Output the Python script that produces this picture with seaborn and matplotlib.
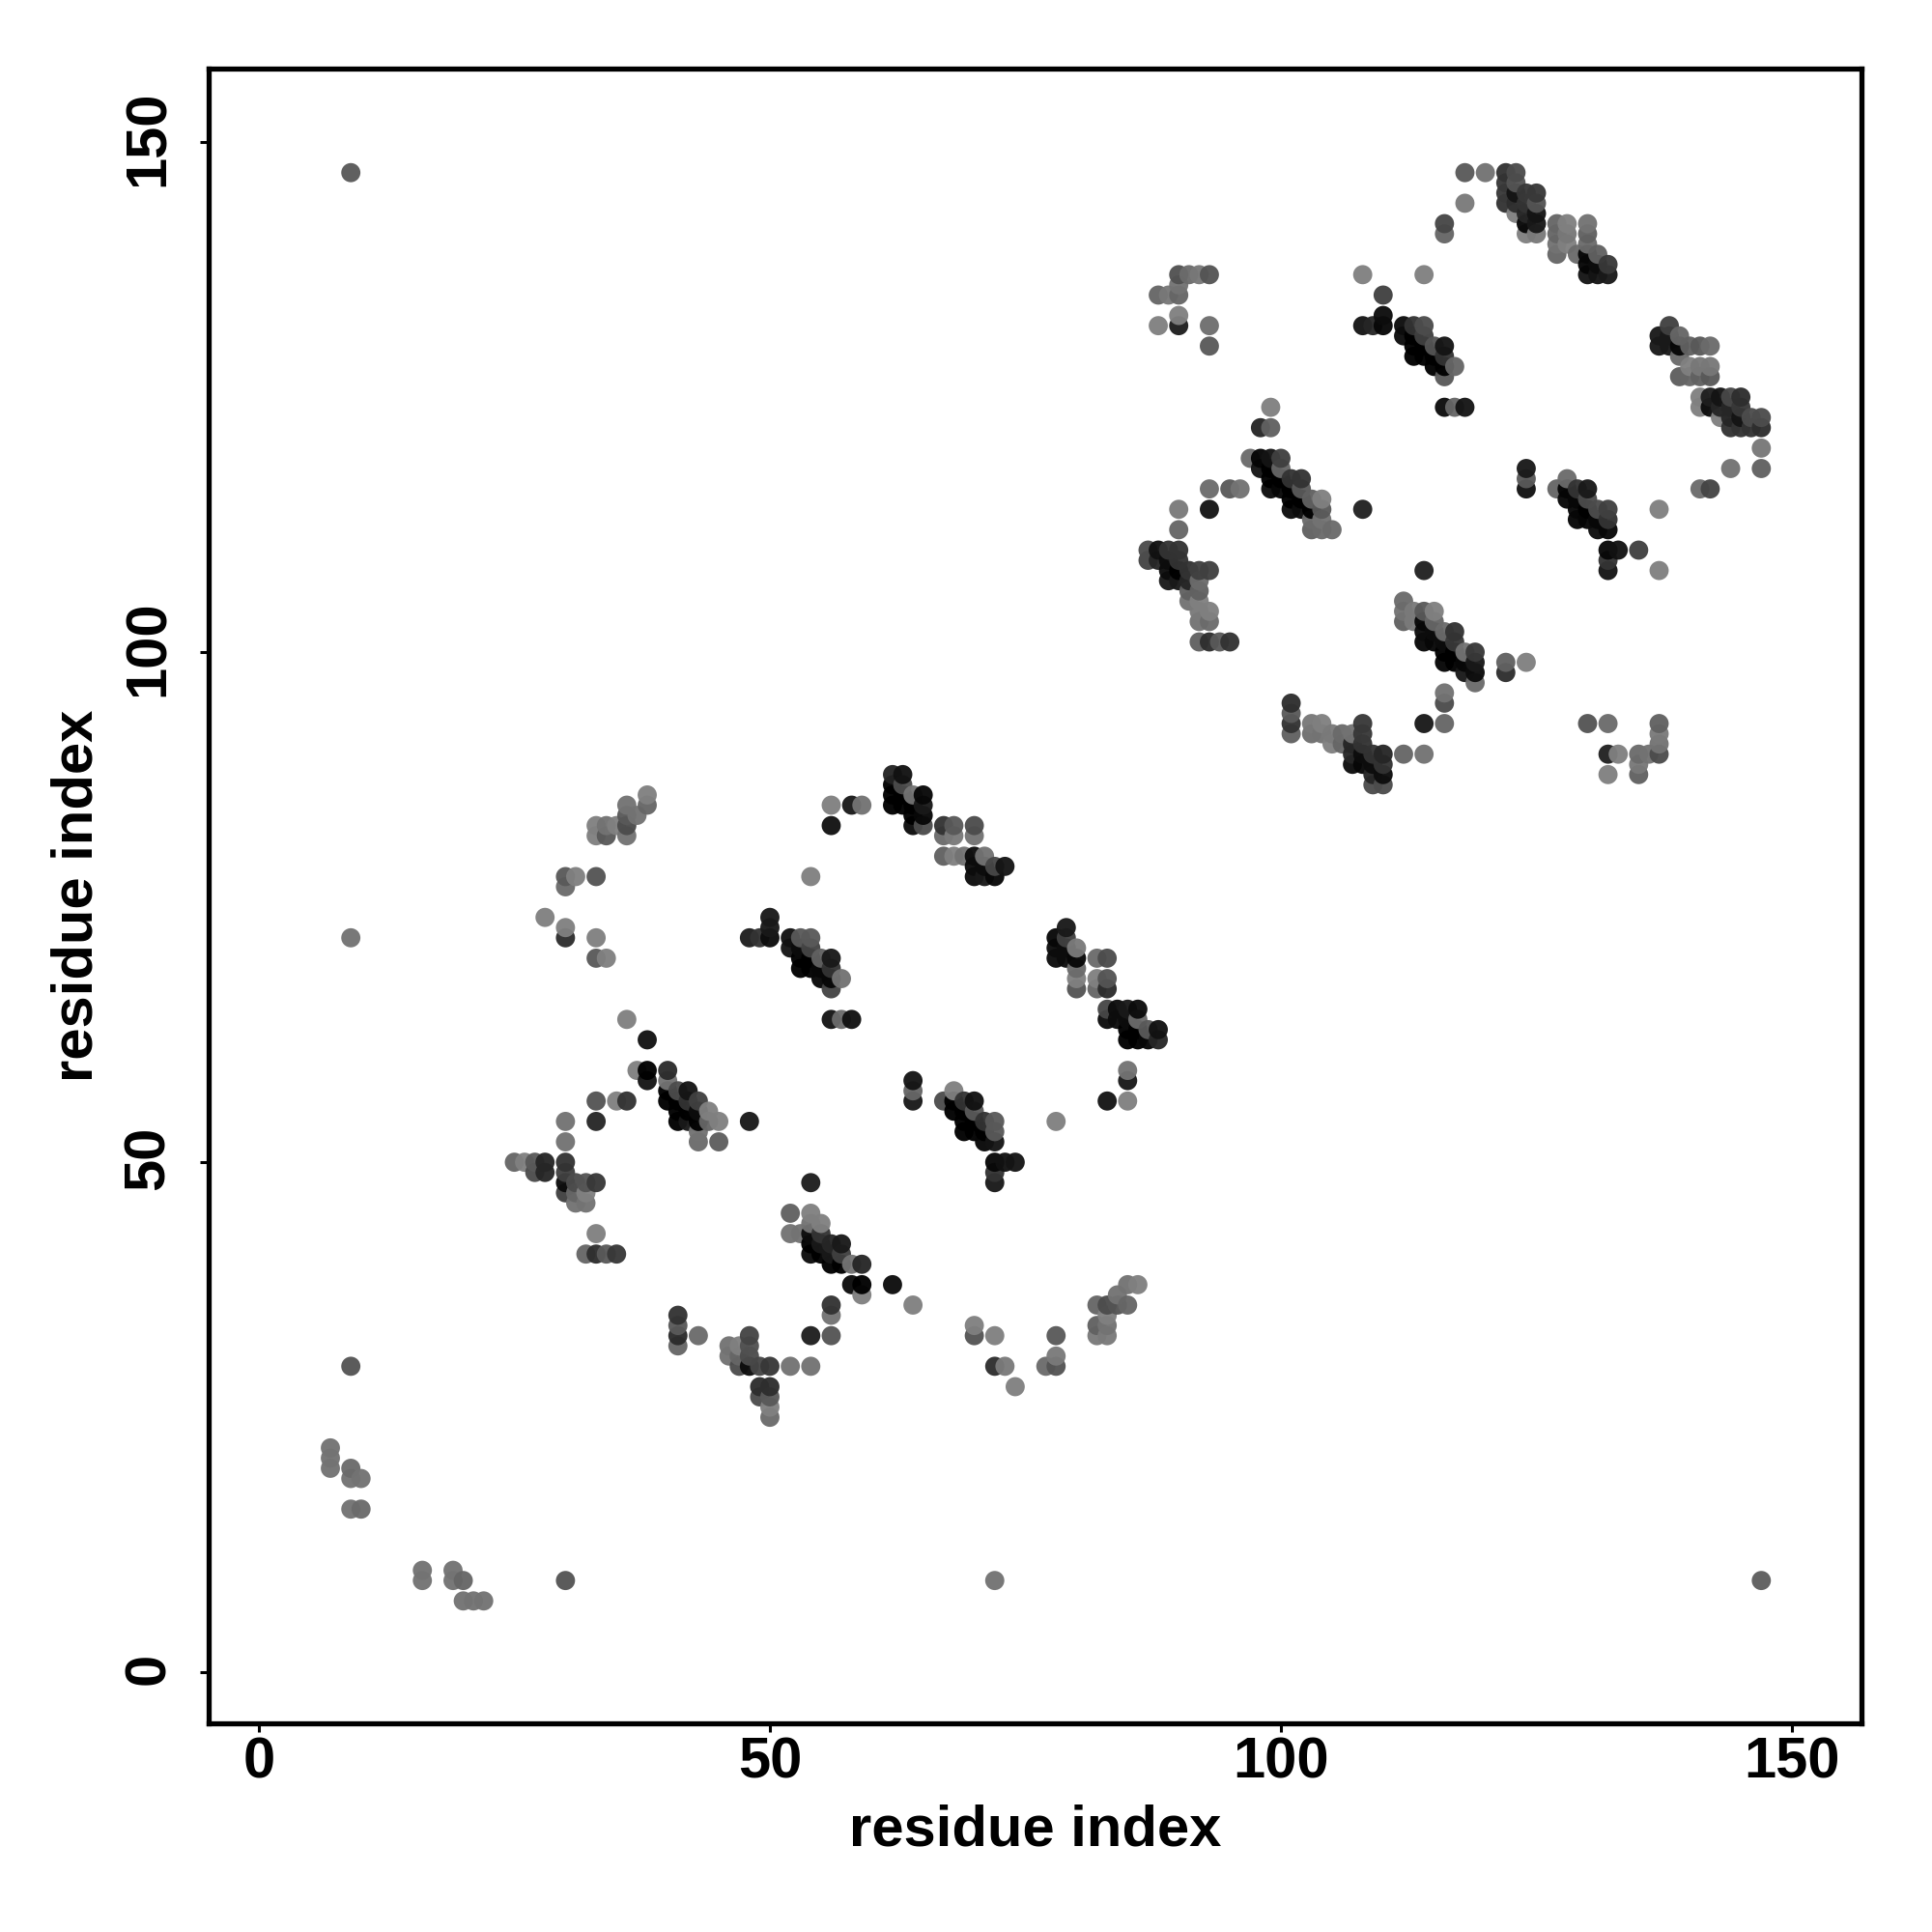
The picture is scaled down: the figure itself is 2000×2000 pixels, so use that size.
import matplotlib
matplotlib.use('Agg')
import matplotlib.pyplot as plt
from matplotlib.transforms import ScaledTranslation
import seaborn as sns
import pandas as pd

# contacts: (residue x, residue y, grey level of the dot)
tail_contacts = [
    (7, 22, .45), (7, 21, .45), (7, 20, .45), (9, 20, .42), (9, 19, .45), (10, 19, .45),
    (9, 16, .45), (10, 16, .42), (16, 10, .45), (16, 9, .45), (19, 10, .45), (19, 9, .45),
    (20, 9, .4), (20, 7, .45), (21, 7, .45), (22, 7, .45), (30, 9, .33), (9, 30, .33),
    (72, 9, .45), (147, 9, .37), (9, 72, .45), (9, 147, .35),
]

upper_left_arc = [
    (38, 86, .5), (38, 85, .4), (36, 85, .45), (37, 84, .45), (36, 84, .35), (36, 83, .3),
    (36, 82, .45), (33, 83, .5), (34, 83, .45), (35, 83, .5), (33, 82, .5), (34, 82, .35),
    (30, 78, .35), (31, 78, .5), (33, 78, .33), (30, 77, .42), (28, 74, .5), (30, 73, .5),
    (30, 72, .18), (33, 72, .5), (33, 70, .35), (34, 70, .5), (36, 64, .5), (38, 62, .07),
    (37, 59, .5), (38, 59, 0), (38, 58, .08), (33, 56, .33), (35, 56, .5), (36, 56, .2),
    (30, 54, .45), (33, 54, .15), (30, 52, .45),
]

band_40_57 = [
    (40, 59, .17), (40, 58, .45), (40, 57, 0), (41, 57, .3), (42, 57, .08), (40, 56, 0),
    (41, 56, 0), (42, 56, .2), (43, 56, .25), (41, 55, 0), (42, 55, 0), (43, 55, .05),
    (44, 55, .5), (41, 54, 0), (42, 54, .1), (43, 54, 0), (44, 54, .4), (45, 54, .5),
    (48, 54, .1), (43, 53, .45), (43, 52, .42), (45, 52, .37),
]

knot_25_50 = [
    (25, 50, .4), (26, 50, .5), (27, 50, .35), (28, 50, .15), (30, 50, .2), (27, 49, .3),
    (28, 49, .15), (30, 49, .25), (30, 48, .05), (31, 48, .3), (32, 48, .33), (33, 48, .22),
    (30, 47, .25), (31, 47, .4), (32, 47, .5), (31, 46, .45), (32, 46, .45), (33, 43, .5),
    (32, 41, .4), (33, 41, .18), (34, 41, .35), (35, 41, .22),
]

band_52_45 = [
    (54, 48, .12), (52, 45, .38), (54, 45, .5), (54, 44, .45), (55, 44, .5), (52, 43, .45),
    (53, 43, .45), (54, 43, .05), (55, 43, .2), (54, 42, 0), (55, 42, .1), (56, 42, .15),
    (57, 42, .1), (54, 41, .05), (55, 41, 0), (56, 41, .1), (57, 41, .25), (56, 40, 0),
    (57, 40, 0), (58, 40, .45), (59, 40, .15), (58, 38, .05), (59, 38, 0), (62, 38, .05),
    (59, 37, .5), (64, 36, .5), (56, 36, .2), (56, 35, .45), (54, 33, .12), (56, 33, .33),
]

bottom_arc = [
    (41, 35, .2), (41, 34, .35), (41, 33, .17), (41, 32, .4), (43, 33, .42), (48, 33, .27),
    (48, 32, .32), (48, 31, .3), (46, 32, .45), (47, 32, .5), (46, 31, .45), (47, 31, .4),
    (47, 30, .3), (48, 30, .05), (49, 30, .28), (50, 30, .22), (52, 30, .45), (54, 30, .45),
    (49, 28, .18), (50, 28, .18), (49, 27, .3), (50, 27, .35), (50, 26, .5), (50, 25, .42),
    (70, 34, .5), (70, 33, .33), (72, 33, .5), (78, 33, .35), (72, 30, .18), (73, 30, .48),
    (74, 28, .5), (77, 30, .42), (78, 31, .48), (78, 30, .33), (82, 36, .4), (83, 36, .3),
    (84, 37, .45), (84, 36, .33), (85, 36, .4), (85, 38, .45), (86, 38, .5), (82, 34, .38),
    (83, 35, .5), (83, 34, .45), (82, 33, .48), (83, 33, .48),
]

band_48_72 = [
    (54, 78, .5), (48, 72, .12), (49, 72, .2), (50, 72, .05), (50, 74, .1), (50, 73, .1),
    (52, 72, .07), (53, 72, .35), (54, 72, .35), (52, 71, .08), (53, 71, .05), (54, 71, .27),
    (53, 70, 0), (54, 70, 0), (55, 70, .38), (56, 70, .1), (53, 69, 0), (54, 69, 0),
    (55, 69, .03), (56, 69, .2), (55, 68, .03), (56, 68, .03), (57, 68, .45), (56, 67, .27),
    (56, 64, .08), (57, 64, .42), (58, 64, .07),
]

band_62_88 = [
    (56, 85, .5), (58, 85, .1), (59, 85, .45), (56, 83, .07), (62, 88, .14), (63, 88, .07),
    (62, 87, 0), (63, 87, .3), (62, 86, 0), (63, 86, 0), (64, 86, .45), (65, 86, .03),
    (62, 85, 0), (63, 85, 0), (64, 85, 0), (65, 85, .1), (64, 84, 0), (65, 84, .03),
    (64, 83, .05), (65, 83, .3), (67, 83, .2), (68, 83, .35), (70, 83, .3), (67, 82, .42),
    (68, 82, .48), (70, 82, .45), (67, 80, .38), (68, 80, .5), (69, 80, .45), (70, 80, .05),
    (71, 80, .45), (70, 79, .05), (71, 79, .05), (72, 79, .28), (73, 79, .08), (70, 78, .05),
    (71, 78, .1), (72, 78, .03),
]

band_78_73 = [
    (79, 73, .1), (78, 72, .03), (79, 72, .25), (80, 71, .48), (78, 71, .05), (79, 71, .05),
    (78, 70, .05), (79, 70, .05), (80, 70, .03), (82, 70, .42), (83, 70, .3), (80, 69, .42),
    (80, 68, .5), (82, 68, .5), (83, 68, .33), (80, 67, .33), (82, 67, .4), (83, 67, .17),
    (83, 65, .28), (84, 65, .05), (85, 65, .1), (86, 65, .05), (83, 64, .05), (84, 64, .05),
    (85, 64, .05), (86, 64, .42), (85, 63, 0), (86, 63, 0), (87, 63, .35), (88, 63, .07),
    (85, 62, 0), (86, 62, 0), (87, 62, .03), (88, 62, .15), (85, 59, .45), (85, 58, .1),
    (83, 56, .08), (85, 56, .5), (78, 54, .5),
]

band_67_56 = [
    (64, 58, .08), (64, 57, .4), (64, 56, .1), (67, 56, .3), (68, 57, .5), (68, 56, 0),
    (69, 56, .2), (70, 56, .07), (68, 55, 0), (69, 55, 0), (70, 55, .35), (69, 54, 0),
    (70, 54, 0), (71, 54, .2), (72, 54, .35), (69, 53, 0), (70, 53, 0), (71, 53, 0),
    (72, 53, .35), (71, 52, .03), (72, 52, .08), (72, 50, .03), (73, 50, .07), (74, 50, .08),
    (72, 49, .2), (72, 48, .1),
]

upper_arc_88_137 = [
    (90, 137, .32), (91, 137, .42), (92, 137, .47), (93, 137, .33), (90, 136, .45),
    (88, 135, .4), (89, 135, .47), (90, 135, .4), (88, 132, .5), (90, 133, .5), (90, 132, .12),
    (93, 132, .43), (93, 130, .35), (99, 124, .5), (98, 122, .15), (99, 122, .38),
    (93, 116, .42), (95, 116, .35), (96, 116, .45), (90, 114, .48), (93, 114, .08),
    (108, 114, .13), (90, 112, .4),
]

band_108_132 = [
    (108, 137, .5), (114, 137, .5), (110, 135, .25), (110, 133, .05), (108, 132, .08),
    (109, 132, .15), (110, 132, .03), (112, 132, .05), (113, 132, .2), (114, 132, .3),
    (112, 131, .05), (113, 131, 0), (114, 131, .25), (113, 130, 0), (114, 130, 0),
    (115, 130, .33), (116, 130, .08), (113, 129, 0), (114, 129, 0), (115, 129, 0),
    (116, 129, .2), (115, 128, 0), (116, 128, 0), (117, 128, .4), (116, 127, .35),
    (116, 124, .05), (117, 124, .4), (118, 124, .08),
]

band_97_119 = [
    (97, 119, .42), (98, 119, .02), (99, 119, .08), (100, 119, .25), (98, 118, .08),
    (99, 118, 0), (100, 118, .4), (99, 117, 0), (100, 117, 0), (101, 117, .2), (102, 117, .2),
    (99, 116, .05), (100, 116, .03), (101, 116, 0), (102, 116, .35), (101, 115, 0),
    (102, 115, 0), (103, 115, .38), (104, 115, .5), (101, 114, .05), (102, 114, .05),
    (103, 114, 0), (104, 114, .35), (103, 113, .42), (104, 113, .45), (103, 112, .38),
    (104, 112, .42), (105, 112, .42),
]

band_87_110 = [
    (87, 110, .3), (88, 110, .07), (89, 110, .2), (90, 110, .2), (87, 109, .27), (88, 109, .15),
    (89, 109, .05), (90, 109, .2), (89, 108, .05), (90, 108, 0), (91, 108, .2), (92, 108, .25),
    (93, 108, .25), (89, 107, .1), (90, 107, .1), (91, 107, .15), (92, 107, .42), (91, 106, .38),
    (92, 106, .38), (91, 105, .45), (92, 105, .5), (92, 104, .48), (93, 104, .5), (92, 103, .45),
    (93, 103, .42), (92, 101, .38), (93, 101, .18), (94, 101, .35), (95, 101, .2),
]

band_112_105 = [
    (114, 108, .13), (112, 105, .42), (112, 104, .45), (112, 103, .38), (113, 104, .48),
    (113, 103, .48), (114, 104, .35), (115, 104, .5), (114, 103, .03), (115, 103, .4),
    (114, 102, .05), (115, 102, .05), (116, 102, .42), (117, 102, .2), (114, 101, .03),
    (115, 101, .03), (116, 101, .05), (117, 101, .22), (116, 100, 0), (117, 100, 0),
    (118, 100, .45), (119, 100, .22), (116, 99, .02), (117, 99, 0), (118, 99, .03),
    (119, 99, .1), (122, 99, .38), (124, 99, .5), (118, 98, .1), (119, 98, .05), (122, 98, .18),
    (119, 97, .42), (116, 96, .45), (116, 95, .3), (114, 93, .1), (116, 93, .4), (112, 90, .4),
    (114, 90, .45),
]

band_101_95 = [
    (101, 95, .18), (101, 94, .35), (101, 93, .2), (101, 92, .38), (103, 93, .47), (104, 93, .5),
    (103, 92, .43), (104, 92, .45), (105, 92, .48), (106, 92, .42), (107, 92, .45), (108, 93, .22),
    (108, 92, .22), (105, 91, .5), (106, 91, .4), (107, 91, .15), (108, 91, .2), (107, 90, .15),
    (108, 90, .05), (109, 90, .2), (110, 90, .15), (107, 89, .05), (108, 89, .03), (109, 89, .05),
    (110, 89, .2), (109, 88, .15), (110, 88, .05), (109, 87, .3), (110, 87, .3),
]

band_122_147 = [
    (118, 147, .35), (120, 147, .45), (122, 147, .2), (123, 147, .3), (122, 146, .22), (123, 146, .33),
    (122, 145, .22), (123, 145, .08), (124, 145, .22), (125, 145, .22), (118, 144, .48), (122, 144, .2),
    (123, 144, .18), (124, 144, .2), (125, 144, .33), (123, 143, .5), (124, 143, .15), (125, 143, .08),
    (124, 142, .03), (125, 142, .1), (124, 141, .5), (125, 141, .48), (116, 142, .28), (116, 141, .4),
    (127, 142, .4), (128, 142, .5), (130, 142, .45), (127, 141, .4), (128, 141, .47), (130, 141, .38),
    (127, 140, .45), (128, 140, .5), (130, 140, .42), (127, 139, .4), (129, 139, .42), (130, 139, .03),
    (131, 139, .38), (130, 138, .02), (131, 138, .05), (132, 138, .22), (130, 137, .08), (131, 137, .08),
    (132, 137, .1),
]

band_137_132 = [
    (138, 132, .25), (137, 131, .1), (138, 131, .1), (139, 131, .4), (137, 130, .1), (138, 130, .1),
    (139, 130, .03), (140, 130, .38), (141, 130, .35), (142, 130, .42), (139, 129, .42), (140, 128, .5),
    (141, 128, .47), (142, 128, .47), (139, 127, .37), (140, 127, .4), (141, 127, .38), (142, 127, .35),
    (141, 125, .5), (142, 125, .12), (143, 125, .08), (144, 125, .28), (145, 125, .18), (141, 124, .5),
    (142, 124, .05), (143, 124, .15), (144, 124, .15), (145, 124, .22), (143, 123, .5), (144, 123, .15),
    (145, 123, .08), (146, 123, .3), (147, 123, .3), (144, 122, .2), (145, 122, .2), (146, 122, .2),
    (147, 122, .18), (147, 120, .47), (144, 118, .45), (147, 118, .38), (141, 116, .42), (142, 116, .27),
]

band_127_116 = [
    (124, 118, .1), (124, 117, .35), (124, 116, .07), (127, 116, .4), (128, 117, .42), (128, 116, .02),
    (129, 116, .2), (130, 116, .1), (128, 115, .03), (129, 115, .03), (130, 115, .3), (129, 114, .03),
    (130, 114, 0), (131, 114, .3), (132, 114, .25), (129, 113, .02), (130, 113, .02), (131, 113, .03),
    (132, 113, .2), (131, 112, .05), (132, 112, .03), (137, 114, .5), (137, 108, .5), (135, 110, .25),
    (132, 110, .03), (133, 110, .07), (132, 109, .2), (132, 108, .08),
]

lower_right_contacts = [
    (130, 93, .33), (132, 93, .42), (137, 93, .38), (137, 92, .48), (137, 91, .45), (137, 90, .3),
    (132, 90, .13), (133, 90, .5), (135, 90, .42), (136, 90, .45), (135, 89, .47), (132, 88, .5),
    (135, 88, .38),
]

tick_values = [0, 50, 100, 150]
axis_label = 'residue index'

groups = [tail_contacts, upper_left_arc, band_40_57, knot_25_50, band_52_45, bottom_arc,
          band_48_72, band_62_88, band_78_73, band_67_56, upper_arc_88_137, band_108_132,
          band_97_119, band_87_110, band_112_105, band_101_95, band_122_147, band_137_132,
          band_127_116, lower_right_contacts]
rows = [p for g in groups for p in g]
df = pd.DataFrame(rows, columns=['x', 'y', 'grey'])
# higher residue indices get painted over lower ones in the reference
df = df.sort_values(['x', 'y'])

sns.set_theme(style='white')
plt.rcParams['font.family'] = ['Liberation Sans', 'DejaVu Sans']
plt.rcParams['font.weight'] = 'bold'

W, H = 2000, 2000
fig = plt.figure(figsize=(10, 10), dpi=200)
ax = fig.add_axes([216 / W, 1 - 1784 / H, (1927 - 216) / W, (1784 - 71) / H])

sns.scatterplot(data=df, x='x', y='y', hue='grey', palette='gray', hue_norm=(0, 1),
                s=51, linewidth=0, alpha=0.96, legend=False, ax=ax)

ax.set_xlim(-4.91, 156.8)
ax.set_ylim(-5.0, 157.2)
ax.set_xticks(tick_values)
ax.set_yticks(tick_values)
ax.tick_params(axis='both', length=3.2, width=1.1, color='black', labelcolor='black',
               labelsize=21.5, left=True, bottom=True)
ax.tick_params(axis='x', pad=1.5)
ax.tick_params(axis='y', pad=9)
# nudge the rotated y labels up so they centre on their ticks
nudge = ScaledTranslation(0, 4 / 200, fig.dpi_scale_trans)
for lab in ax.get_yticklabels():
    lab.set_rotation(90)
    lab.set_va('center')
    lab.set_transform(lab.get_transform() + nudge)
for spine in ax.spines.values():
    spine.set_color('black')
    spine.set_linewidth(1.9)
ax.set_xlabel(axis_label, fontsize=21.5, fontweight='bold', color='black', labelpad=5.4)
ax.set_ylabel(axis_label, fontsize=21.5, fontweight='bold', color='black', labelpad=7)

fig.savefig('out.png', dpi=200, facecolor='white')
